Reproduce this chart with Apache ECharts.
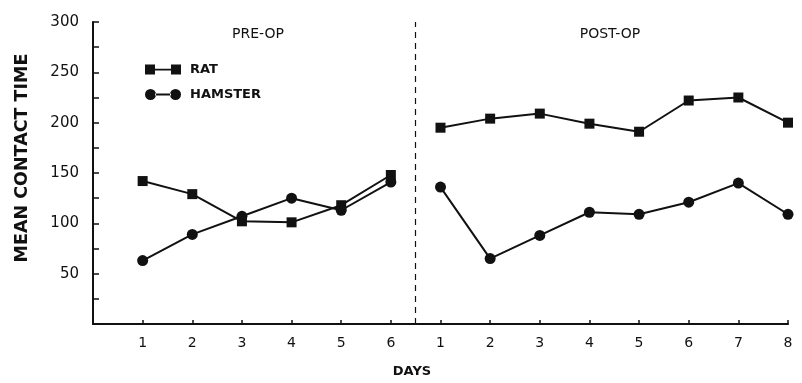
<!DOCTYPE html>
<html>
<head>
<meta charset="utf-8">
<script src="https://cdn.jsdelivr.net/npm/echarts@6/dist/echarts.min.js"></script>
<style>html,body{margin:0;padding:0;background:#fff;}#c{width:802px;height:383px;}</style>
</head>
<body>
<div id="c"></div>
<script>
var preDays = ['1', '2', '3', '4', '5', '6'];
var postDays = ['1', '2', '3', '4', '5', '6', '7', '8'];
var ratPre = [142, 129, 102, 101, 118, 148];
var ratPost = [195, 204, 209, 199, 191, 222, 225, 200];
var hamsterPre = [63, 89, 107, 125, 113, 141];
var hamsterPost = [136, 65, 88, 111, 109, 121, 140, 109];
var yTickLabels = ['50', '100', '150', '200', '250', '300'];
var xTickLabels = [''].concat(preDays, postDays);

function build(pre, post) {
  var d = [];
  pre.forEach(function (v, i) { d.push([i + 1, v]); });
  d.push([preDays.length + 0.5, null]);
  post.forEach(function (v, i) { d.push([preDays.length + 1 + i, v]); });
  return d;
}

var ink = '#111';
var font = 'DejaVu Sans';
var chart = echarts.init(document.getElementById('c'), null, { renderer: 'canvas' });
chart.setOption({
  animation: false,
  backgroundColor: '#fff',
  grid: { left: 93, right: 14, top: 22, bottom: 59, containLabel: false },
  title: [
    { text: 'PRE-OP', left: 253, top: 22, textAlign: 'center',
      textStyle: { fontFamily: font, fontSize: 14, fontWeight: 'normal', color: ink } },
    { text: 'POST-OP', left: 605, top: 22, textAlign: 'center',
      textStyle: { fontFamily: font, fontSize: 14, fontWeight: 'normal', color: ink } }
  ],
  legend: {
    orient: 'vertical', left: 140, top: 58, itemGap: 12, itemWidth: 36, itemHeight: 11,
    textStyle: { fontFamily: font, fontSize: 13, fontWeight: 'bold', color: ink, padding: [0, 0, 0, 4] },
    data: [
      { name: 'RAT', icon: 'path://M0,1h10v10h-10zM10,5.2h16v1.8h-16zM26,1h10v10h-10z' },
      { name: 'HAMSTER', icon: 'path://M0,5.5a5.5,5.5 0 1,0 11,0a5.5,5.5 0 1,0 -11,0zM10,4.6h16v1.8h-16zM25,5.5a5.5,5.5 0 1,0 11,0a5.5,5.5 0 1,0 -11,0z' }
    ]
  },
  xAxis: {
    type: 'value', min: 0, max: preDays.length + postDays.length, interval: 1,
    axisLine: { lineStyle: { color: ink, width: 2 } },
    axisTick: { inside: true, length: 4, lineStyle: { color: ink, width: 1.5 } },
    splitLine: { show: false },
    axisLabel: {
      margin: 12, color: ink, fontFamily: font, fontSize: 14,
      formatter: function (v) { return xTickLabels[Math.round(v)] || ''; }
    }
  },
  yAxis: {
    type: 'value', min: 0, max: 300, interval: 25,
    axisLine: { show: true, lineStyle: { color: ink, width: 2 } },
    axisTick: { show: true, inside: true, length: 6, lineStyle: { color: ink, width: 1.5 } },
    splitLine: { show: false },
    axisLabel: {
      margin: 14, color: ink, fontFamily: font, fontSize: 15,
      formatter: function (v) { var s = String(v); return yTickLabels.indexOf(s) >= 0 ? s : ''; }
    }
  },
  graphic: [
    { type: 'text', x: 13, y: 158, rotation: Math.PI / 2,
      style: { text: 'MEAN CONTACT TIME', fontFamily: font, fontSize: 17.5, fontWeight: 'bold', fill: ink,
               align: 'center', verticalAlign: 'top' } },
    { type: 'text', x: 412, y: 365,
      style: { text: 'DAYS', fontFamily: font, fontSize: 13, fontWeight: 'bold', fill: ink,
               align: 'center', verticalAlign: 'top' } }
  ],
  series: [
    {
      name: 'RAT', type: 'line', data: build(ratPre, ratPost), connectNulls: false,
      symbol: 'rect', symbolSize: 10,
      lineStyle: { color: ink, width: 2 }, itemStyle: { color: ink },
      markLine: {
        silent: true, symbol: 'none', label: { show: false },
        lineStyle: { type: [6, 5], color: ink, width: 1.2 },
        data: [{ xAxis: preDays.length + 0.5 }]
      }
    },
    {
      name: 'HAMSTER', type: 'line', data: build(hamsterPre, hamsterPost), connectNulls: false,
      symbol: 'circle', symbolSize: 11,
      lineStyle: { color: ink, width: 2 }, itemStyle: { color: ink }
    }
  ]
});
</script>
</body>
</html>
